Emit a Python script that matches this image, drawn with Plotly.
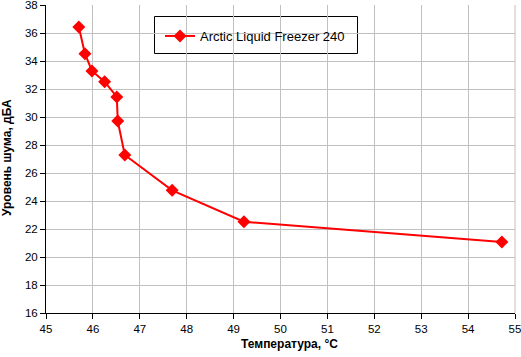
import plotly.graph_objects as go

temperature = [45.70, 45.83, 45.98, 46.25, 46.51, 46.53, 46.68, 47.69, 49.22, 54.72]
noise = [36.43, 34.52, 33.29, 32.52, 31.43, 29.71, 27.29, 24.76, 22.52, 21.07]
series_name = "Arctic Liquid Freezer 240"
x_title = "Температура, °C"
y_title = "Уровень шума, дБА"

W, H = 521, 357
L, R, T, B = 46, 6, 5, 44

fig = go.Figure()
fig.add_trace(go.Scatter(
    x=temperature, y=noise, mode="lines+markers", name=series_name,
    line=dict(color="#FF0000", width=2),
    marker=dict(symbol="diamond", size=10, color="#FF0000"),
    showlegend=True,
))

font_family = "Liberation Sans, Arial, sans-serif"
axis_font = dict(family=font_family, size=12, color="black")
tick_font = dict(family=font_family, size=11.5, color="black")
pw, ph = W - L - R, H - T - B


def px_x(p):
    return (p - L) / pw


def px_y(p):
    return (H - B - p) / ph


fig.update_layout(
    width=W, height=H,
    margin=dict(l=L, r=R, t=T, b=B, autoexpand=False),
    paper_bgcolor="white", plot_bgcolor="white",
    font=axis_font,
    showlegend=True,
    legend=dict(
        x=px_x(160), y=px_y(21), xanchor="left", yanchor="top",
        bgcolor="rgba(0,0,0,0)", borderwidth=0,
        font=dict(family=font_family, size=13, color="black"),
        itemwidth=30,
    ),
    xaxis=dict(
        range=[45, 55], dtick=1, tick0=45, automargin=False,
        showgrid=True, gridcolor="#C0C0C0", gridwidth=1,
        showline=True, linecolor="black", linewidth=1,
        ticks="outside", ticklen=5, tickcolor="black",
        zeroline=False, mirror=False, ticklabeloverflow="allow",
        tickfont=tick_font,
    ),
    yaxis=dict(
        range=[16, 38], dtick=2, tick0=16, automargin=False,
        showgrid=True, gridcolor="#C0C0C0", gridwidth=1,
        showline=True, linecolor="black", linewidth=1,
        ticks="outside", ticklen=5, tickcolor="black",
        zeroline=False, ticklabeloverflow="allow",
        tickfont=tick_font,
    ),
    shapes=[
        dict(type="line", xref="paper", yref="paper", x0=1, x1=1, y0=0, y1=1,
             line=dict(color="#C0C0C0", width=1)),
        dict(type="rect", xref="paper", yref="paper",
             x0=px_x(154.5), x1=px_x(357.5), y0=px_y(53.5), y1=px_y(16.5),
             fillcolor="white", line=dict(color="black", width=1), layer="below"),
    ],
    annotations=[
        dict(text="<b>" + x_title + "</b>", xref="paper", yref="paper",
             x=px_x(289), y=px_y(344), xanchor="center", yanchor="middle",
             showarrow=False, font=axis_font),
        dict(text="<b>" + y_title + "</b>", xref="paper", yref="paper",
             x=px_x(7), y=px_y(158), xanchor="center", yanchor="middle",
             textangle=-90, showarrow=False, font=axis_font),
    ],
)

fig.write_html(
    "out.html",
    config={"displayModeBar": False},
    post_script="document.body.style.margin='0';document.body.style.padding='0';",
)
